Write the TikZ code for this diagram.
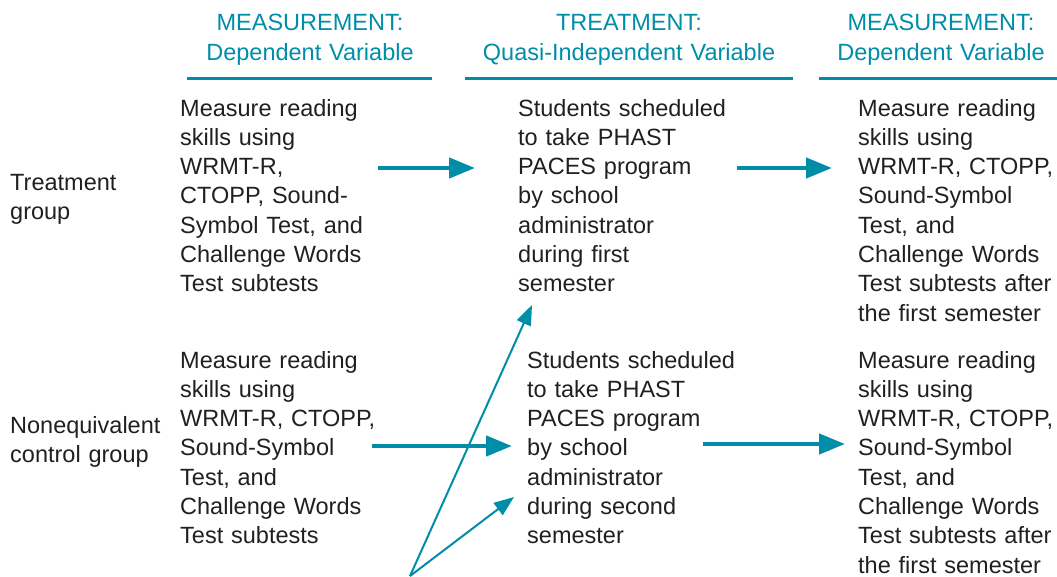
\documentclass[tikz,border=0pt]{standalone}
\usepackage{fontspec}
\setmainfont{Liberation Sans}
\definecolor{accent}{RGB}{0,141,168}
\definecolor{ink}{RGB}{35,31,32}
\usetikzlibrary{arrows.meta}

\tikzset{
  body/.style={ink,font=\fontsize{23.5}{29.3}\selectfont,align=left,text width=215pt,inner sep=0pt,anchor=base west},
  head/.style={accent,font=\fontsize{23.5}{30}\selectfont,align=center,text width=330pt,inner sep=0pt,anchor=base},
  flow/.style={accent,line width=4.5pt,-{Triangle[length=26pt,width=20pt]}},
  link/.style={accent,line width=2pt,-{Triangle[length=20pt,width=15pt]}},
  rule/.style={accent,line width=3pt}
}

\begin{document}
\begin{tikzpicture}[x=1pt,y=-1pt]
  \useasboundingbox (0,0) rectangle (1057,576);
  % column heads, each with its rule
  \node[head] (hd1) at (310,30) {MEASUREMENT:\\Dependent Variable};
  \node[head] (hd2) at (629,30) {TREATMENT:\\Quasi-Independent Variable};
  \node[head] (hd3) at (941,30) {MEASUREMENT:\\Dependent Variable};
  \draw[rule] (187,78) -- (432,78);
  \draw[rule] (465,78) -- (793,78);
  \draw[rule] (819,78) -- (1057,78);

  % group labels
  \node[body] (grp1) at (10,190) {Treatment\\group};
  \node[body] (grp2) at (10,433) {Nonequivalent\\control group};

  % treatment group row
  \node[body] (pre1) at (180,116) {Measure reading\\skills using\\WRMT-R,\\CTOPP, Sound-\\Symbol Test, and\\Challenge Words\\Test subtests};
  \node[body] (trt1) at (518,116) {Students scheduled\\to take PHAST\\PACES program\\by school\\administrator\\during first\\semester};
  \node[body] (post1) at (858,116) {Measure reading\\skills using\\WRMT-R, CTOPP,\\Sound-Symbol\\Test, and\\Challenge Words\\Test subtests after\\the first semester};

  % control group row
  \node[body] (pre2) at (180,368) {Measure reading\\skills using\\WRMT-R, CTOPP,\\Sound-Symbol\\Test, and\\Challenge Words\\Test subtests};
  \node[body] (trt2) at (527,368) {Students scheduled\\to take PHAST\\PACES program\\by school\\administrator\\during second\\semester};
  \node[body] (post2) at (858,368) {Measure reading\\skills using\\WRMT-R, CTOPP,\\Sound-Symbol\\Test, and\\Challenge Words\\Test subtests after\\the first semester};

  % flow between the stages
  \draw[flow] ([xshift=198pt,yshift=-52pt]pre1.base west) -- ([xshift=-43pt,yshift=-52pt]trt1.base west);
  \draw[flow] ([xshift=219pt,yshift=-52pt]trt1.base west) -- ([xshift=-26pt,yshift=-52pt]post1.base west);
  \draw[flow] ([xshift=192pt,yshift=-78pt]pre2.base west) -- ([xshift=-15pt,yshift=-78pt]trt2.base west);
  \draw[flow] ([xshift=176pt,yshift=-76pt]trt2.base west) -- ([xshift=-13pt,yshift=-76pt]post2.base west);

  % scheduling arrows coming up from below
  \coordinate (src) at (410,576);
  \draw[link] (src) -- ([xshift=14pt,yshift=-189pt]trt1.base west);
  \draw[link] (src) -- ([xshift=-13pt,yshift=-129pt]trt2.base west);
\end{tikzpicture}
\end{document}
